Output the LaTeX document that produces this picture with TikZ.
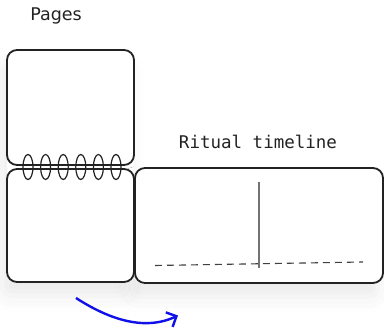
\documentclass[tikz,border=0pt]{standalone}
\usepackage{fontspec}
\setmainfont{DejaVu Sans}
\newfontfamily\monofnt{DejaVu Sans Mono}
\usetikzlibrary{arrows.meta,shadows.blur}
\definecolor{ink}{HTML}{222222}
\definecolor{arrowblue}{HTML}{1010E8}
\tikzset{
  page/.style={draw=ink, line width=1.8pt, rounded corners=10pt, fill=white},
  ring/.style={draw=ink, line width=1.2pt},
  lbl/.style={font=\fontsize{17.5}{20}\selectfont, text=ink, inner sep=0pt},
  shadowbox/.style={fill=white, draw=none, rounded corners=10pt,
    blur shadow={shadow xshift=-5pt, shadow yshift=-14pt, shadow blur radius=16pt, shadow opacity=8}},
}
\begin{document}
\begin{tikzpicture}[x=1pt,y=-1pt]
\useasboundingbox (0,0) rectangle (384,328);
% shadow of the whole group
\path[shadowbox] (7,50) rectangle (134,282);
\path[shadowbox] (135,168) rectangle (383,283);
% labels
\node[lbl] (pages) at (56,16) {Pages};
\node[lbl, font=\monofnt\fontsize{17.5}{20}\selectfont] (ritual) at (258,142) {Ritual timeline};
% pages
\draw[page] (7,50) rectangle (134,165);
\node[inner sep=0pt] (top) at (70.5,107.5) {};
\draw[page] (7,169) rectangle (134,282);
\node[inner sep=0pt] (bottom) at (70.5,225.5) {};
\draw[page] (135,168) rectangle (383,283);
\node[inner sep=0pt] (right) at (259,225.5) {};
% rings
\foreach \x in {28,45.6,63.2,80.8,98.4,116}{
  \draw[ring] (\x,167) ellipse [x radius=5, y radius=12.5];
}
% timeline
\coordinate (vt) at (259,182);
\coordinate (vb) at (259,268);
\draw[draw=black!55, line width=1.1pt] (vt) -- (vb);
\coordinate (dl) at (155,265.5);
\coordinate (dr) at (363,262);
\draw[draw=black!75, line width=1.1pt, dash pattern=on 7pt off 5pt] (dl) -- (dr);
% arrow
\coordinate (a0) at (76,298);
\coordinate (a1) at (178,315.5);
\draw[arrowblue, line width=2.4pt, -{Straight Barb[length=8pt,width=16pt]}]
  (a0) .. controls (110,320) and (145,331) .. (a1);
\end{tikzpicture}
\end{document}
